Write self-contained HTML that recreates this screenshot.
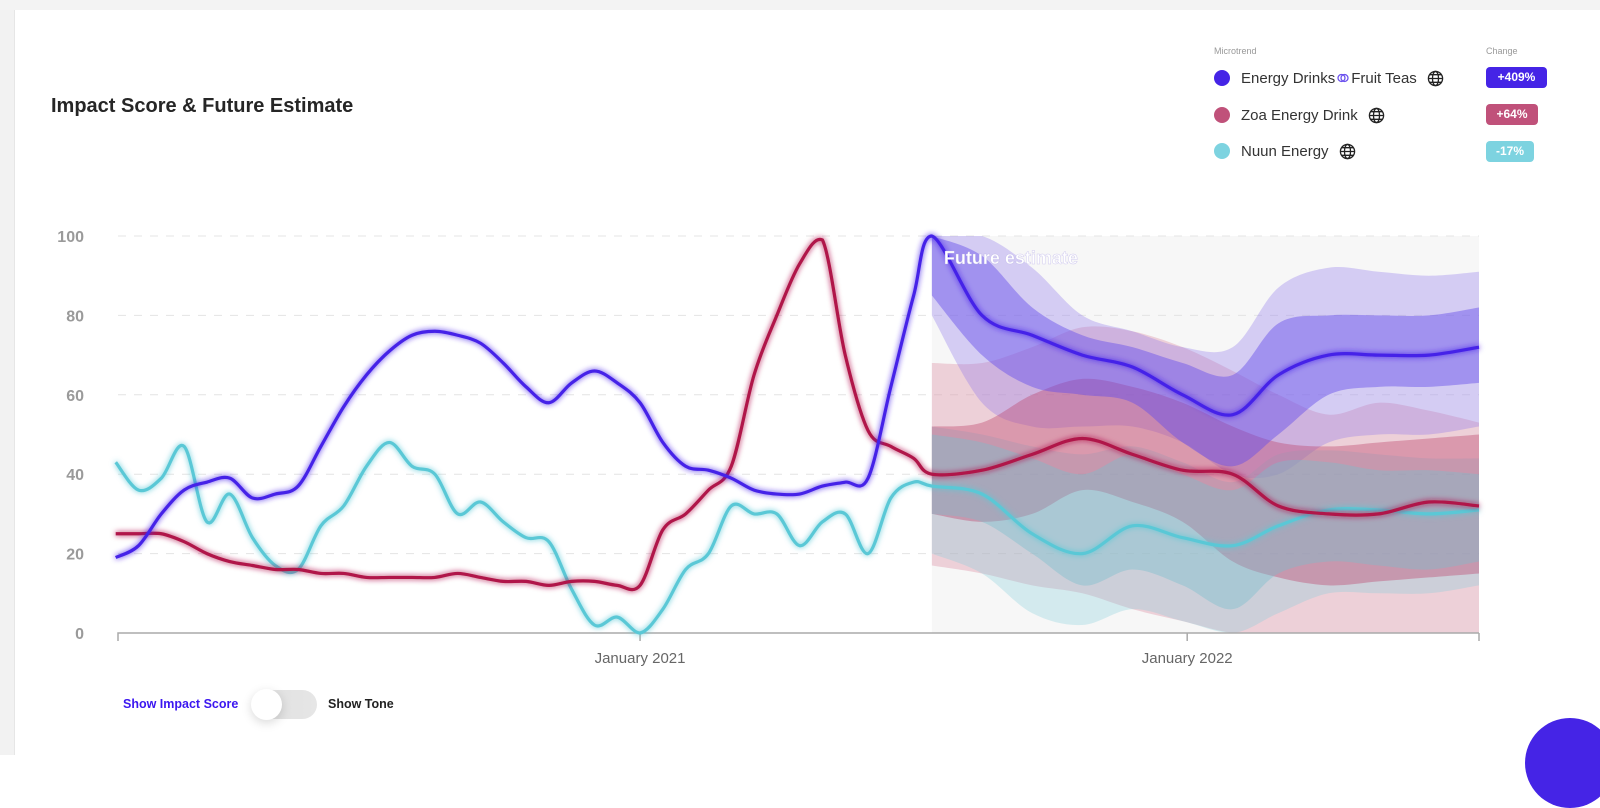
<!DOCTYPE html>
<html><head><meta charset="utf-8"><style>
body{margin:0;width:1600px;height:755px;background:#fff;font-family:"Liberation Sans",sans-serif;overflow:hidden;position:relative}
.abs{position:absolute}
.globe{margin-left:10px;width:17px;height:17px}
</style></head><body>
<div class="abs" style="left:0;top:0;width:1600px;height:10px;background:#f3f3f3"></div>
<div class="abs" style="left:0;top:10px;width:14px;height:745px;background:#f2f2f2;border-right:1px solid #e6e6e6"></div>
<div class="abs" style="left:51px;top:95px;font-size:20px;font-weight:bold;color:#262626">Impact Score &amp; Future Estimate</div>

<div class="abs" style="left:1214px;top:46px;font-size:9px;color:#999">Microtrend</div>
<div class="abs" style="left:1486px;top:46px;font-size:9px;color:#999">Change</div>

<div class="abs" style="left:1214px;top:68px;height:20px;font-size:15px;color:#333;display:flex;align-items:center">
<span style="width:16px;height:16px;border-radius:50%;background:#4524e6;margin-right:11px"></span>Energy Drinks<svg width="12" height="12" style="margin:0 2px"><circle cx="4.5" cy="6" r="3.5" fill="none" stroke="#6a50ee" stroke-width="1.3"/><circle cx="7.5" cy="6" r="3.5" fill="none" stroke="#6a50ee" stroke-width="1.3"/></svg>Fruit Teas<svg class="globe" viewBox="0 0 18 18"><g fill="none" stroke="#222" stroke-width="1.4"><circle cx="9" cy="9" r="7.5"/><ellipse cx="9" cy="9" rx="3.2" ry="7.5"/><path d="M1.5 9H16.5M3 5H15M3 13H15"/></g></svg></div>
<div class="abs" style="left:1214px;top:105px;height:20px;font-size:15px;color:#333;display:flex;align-items:center">
<span style="width:16px;height:16px;border-radius:50%;background:#c0517a;margin-right:11px"></span>Zoa Energy Drink<svg class="globe" viewBox="0 0 18 18"><g fill="none" stroke="#222" stroke-width="1.4"><circle cx="9" cy="9" r="7.5"/><ellipse cx="9" cy="9" rx="3.2" ry="7.5"/><path d="M1.5 9H16.5M3 5H15M3 13H15"/></g></svg></div>
<div class="abs" style="left:1214px;top:141px;height:20px;font-size:15px;color:#333;display:flex;align-items:center">
<span style="width:16px;height:16px;border-radius:50%;background:#7dd3e0;margin-right:11px"></span>Nuun Energy<svg class="globe" viewBox="0 0 18 18"><g fill="none" stroke="#222" stroke-width="1.4"><circle cx="9" cy="9" r="7.5"/><ellipse cx="9" cy="9" rx="3.2" ry="7.5"/><path d="M1.5 9H16.5M3 5H15M3 13H15"/></g></svg></div>

<div class="abs" style="left:1486px;top:67px;width:61px;height:21px;border-radius:4px;background:#4524e6;color:#fff;font-weight:bold;font-size:12px;line-height:21px;text-align:center">+409%</div>
<div class="abs" style="left:1486px;top:104px;width:52px;height:21px;border-radius:4px;background:#c0517a;color:#fff;font-weight:bold;font-size:12px;line-height:21px;text-align:center">+64%</div>
<div class="abs" style="left:1486px;top:141px;width:48px;height:21px;border-radius:4px;background:#7dd3e0;color:#fff;font-weight:bold;font-size:12px;line-height:21px;text-align:center">-17%</div>

<svg class="abs" style="left:0;top:0" width="1600" height="755" id="chart">
<defs>
<filter id="glow" x="-5%" y="-5%" width="110%" height="110%"><feGaussianBlur stdDeviation="3" result="b"/><feMerge><feMergeNode in="b"/><feMergeNode in="SourceGraphic"/></feMerge></filter>
</defs>
</svg>

<div class="abs" style="left:123px;top:697px;font-size:12.5px;font-weight:bold;color:#3b16f0">Show Impact Score</div>
<div class="abs" style="left:251px;top:690px;width:66px;height:29px;border-radius:15px;background:linear-gradient(90deg,#fff,#e2e2e2 40%,#e6e6e6)"></div>
<div class="abs" style="left:251px;top:689px;width:31px;height:31px;border-radius:50%;background:#fff;box-shadow:0 3px 10px rgba(0,0,0,.15)"></div>
<div class="abs" style="left:328px;top:697px;font-size:12.5px;font-weight:bold;color:#222">Show Tone</div>
<div class="abs" style="left:1525px;top:718px;width:90px;height:90px;border-radius:50%;background:#4524e6"></div>

<script>
// ---- data (x in months since Jan 2020) ----
const histMonths=[0.5,1,1.5,2,2.5,3,3.5,4,4.5,5,5.5,6,6.5,7,7.5,8,8.5,9,9.5,10,10.5,11,11.5,12,12.5,13,13.5,14,14.5,15,15.5,16,16.5,17,17.5,18,18.4];
const energyHist=[19,22,30,36,38,39,34,35,37,47,57,65,71,75,76,75,73,68,62,58,63,66,63,58,48,42,41,39,36,35,35,37,38,39,62,85,100];
const zoaHist=[25,25,25,23,20,18,17,16,16,15,15,14,14,14,14,15,14,13,13,12,13,13,12,12,26,30,36,42,65,80,93,99,70,51,47,44,40];
const nuunHist=[43,36,39,47,28,35,24,17,16,27,32,42,48,42,40,30,33,28,24,23,11,2,4,0,6,16,20,32,30,30,22,28,30,20,34,38,37];
const futMonths=[18.4,19.5,20.6,21.7,22.8,23.9,25,26,27.1,28.2,29.3,30.4];
const energyFut=[97,80,75,70,67,60,55,65,70,70,70,72];
const energyInHi=[100,95,82,75,72,68,65,78,80,80,80,82];
const energyInLo=[85,70,62,60,58,48,42,50,60,62,62,63];
const energyOutHi=[100,100,92,80,76,72,72,87,92,91,90,91];
const energyOutLo=[80,58,52,52,52,48,40,40,48,50,50,52];
const zoaFut=[40,41,45,49,45,41,40,32,30,30,33,32];
const zoaInHi=[52,53,60,64,62,58,52,48,47,48,49,50];
const zoaInLo=[30,28,30,36,33,28,18,14,12,13,14,15];
const zoaOutHi=[68,68,72,77,76,72,66,60,55,58,56,53];
const zoaOutLo=[17,15,12,10,6,3,0,0,0,0,0,0];
const nuunFut=[36,35,25,20,27,24,22,27,31,31,30,31];
const nuunInHi=[50,48,44,40,45,40,36,43,43,41,41,40];
const nuunInLo=[30,28,20,12,16,12,6,15,18,17,16,18];
const nuunOutHi=[52,50,47,45,47,43,38,45,46,45,44,44];
const nuunOutLo=[20,15,5,2,6,3,0,5,10,10,10,12];
const yTicks=[0,20,40,60,80,100];
const xTickMonths=[12,24];
const xTickLabels=["January 2021","January 2022"];
const domainStart=0.55, domainEnd=30.4, futureStart=18.4;

const svg=document.getElementById('chart');const NS='http://www.w3.org/2000/svg';
const X0=118,X1=1479,Y0=633,Y1=236;
const xS=m=>X0+(m-domainStart)/(domainEnd-domainStart)*(X1-X0);
const yS=v=>Y0-v/100*(Y0-Y1);
function mk(t,a,p){const e=document.createElementNS(NS,t);for(const k in a)e.setAttribute(k,a[k]);(p||svg).appendChild(e);return e;}
function pts(ms,vs){return ms.map((m,i)=>[xS(m),yS(vs[i])]);}
function curve(p,move=true){let d=move?`M${p[0][0]},${p[0][1]}`:`L${p[0][0]},${p[0][1]}`;
 for(let i=0;i<p.length-1;i++){const a=p[i-1]||p[i],b=p[i],c=p[i+1],e=p[i+2]||c;
  const c1=[b[0]+(c[0]-a[0])/6,b[1]+(c[1]-a[1])/6],c2=[c[0]-(e[0]-b[0])/6,c[1]-(e[1]-b[1])/6];
  c1[1]=Math.min(Y0,Math.max(Y1,c1[1]));c2[1]=Math.min(Y0,Math.max(Y1,c2[1]));
  d+=`C${c1[0]},${c1[1]} ${c2[0]},${c2[1]} ${c[0]},${c[1]}`;}return d;}
function band(ms,hi,lo,fill,name){const ph=pts(ms,hi),pl=pts(ms,lo).reverse();
 const e=mk('path',{d:curve(ph)+curve(pl,false)+'Z',fill:fill});
 
 }
function line(ms,vs,col,name){const e=mk('path',{d:curve(pts(ms,vs)),fill:'none',stroke:col,'stroke-width':3.2,'stroke-linejoin':'round',filter:'url(#glow)'});
 
 }

const fb=mk('rect',{x:xS(futureStart),y:Y1,width:X1-xS(futureStart),height:Y0-Y1,fill:'#f7f7f7'});


yTicks.forEach(v=>{
 if(v>0){const g=mk('line',{x1:X0,x2:X1,y1:yS(v),y2:yS(v),stroke:'#e4e4e4','stroke-dasharray':'8 8'});
 
 }
 const t=mk('text',{x:84,y:yS(v)+6,'text-anchor':'end','font-size':16,'font-weight':'bold',fill:'#9a9a9a','font-family':'Liberation Sans'});
 t.textContent=v;
 
 
});
band(futMonths,zoaOutHi,zoaOutLo,'rgba(215,120,145,0.30)','zoa-outer-band');
band(futMonths,energyOutHi,energyOutLo,'rgba(140,115,235,0.32)','energy-outer-band');
band(futMonths,nuunOutHi,nuunOutLo,'rgba(130,205,220,0.30)','nuun-outer-band');
band(futMonths,zoaInHi,zoaInLo,'rgba(190,70,110,0.40)','zoa-inner-band');
band(futMonths,energyInHi,energyInLo,'rgba(100,75,235,0.45)','energy-inner-band');
band(futMonths,nuunInHi,nuunInLo,'rgba(120,190,205,0.40)','nuun-inner-band');
const ax=mk('path',{d:`M${X0},${Y0+8}V${Y0}H${X1}`,stroke:'#aaa','stroke-width':1.5,fill:'none'});


xTickMonths.forEach((m,i)=>{
 const tk=mk('line',{x1:xS(m),x2:xS(m),y1:Y0,y2:Y0+8,stroke:'#aaa','stroke-width':1.5});
 
 
 const t=mk('text',{x:xS(m),y:663,'text-anchor':'middle','font-size':15,fill:'#666','font-family':'Liberation Sans'});
 t.textContent=xTickLabels[i];
 
 
});
const ra=mk('line',{x1:X1,x2:X1,y1:Y0,y2:Y0+8,stroke:'#aaa','stroke-width':1.5});


line(histMonths.concat(futMonths.slice(1)),nuunHist.concat(nuunFut.slice(1)),'#5ac8d6','nuun-line');
line(histMonths.concat(futMonths.slice(1)),zoaHist.concat(zoaFut.slice(1)),'#b0124a','zoa-line');
line(histMonths.concat(futMonths.slice(1)),energyHist.concat(energyFut.slice(1)),'#4420e8','energy-drinks-line');
const fl=mk('text',{x:xS(futureStart)+12,y:264,'font-size':18,'font-weight':'bold',fill:'#fff',stroke:'rgba(180,170,230,0.6)','stroke-width':0.5,'font-family':'Liberation Sans'});
fl.textContent='Future estimate';


</script>
</body></html>
